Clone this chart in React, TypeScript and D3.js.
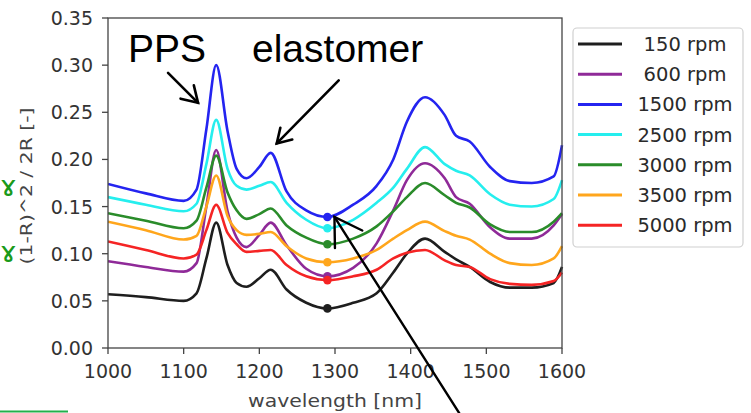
import React from "react";
import * as d3 from "d3";

// Wavelength grid [nm] shared by all spectra
const wavelengths = [1000, 1050, 1100, 1117, 1130, 1143, 1158, 1170, 1183, 1200, 1215, 1236, 1262, 1290, 1324, 1355, 1377, 1395, 1419, 1445, 1460, 1478, 1505, 1531, 1560, 1589, 1600];

// Kubelka-Munk values (1-R)^2 / 2R per rotation speed
const rpm150 = [0.057, 0.054, 0.050, 0.058, 0.095, 0.133, 0.088, 0.069, 0.065, 0.074, 0.083, 0.062, 0.048, 0.042, 0.048, 0.058, 0.080, 0.100, 0.116, 0.102, 0.094, 0.086, 0.070, 0.064, 0.064, 0.069, 0.086];
const rpm600 = [0.092, 0.086, 0.081, 0.090, 0.150, 0.210, 0.145, 0.117, 0.107, 0.120, 0.133, 0.109, 0.084, 0.076, 0.085, 0.111, 0.146, 0.178, 0.196, 0.180, 0.160, 0.153, 0.128, 0.116, 0.116, 0.130, 0.142];
const rpm1500 = [0.174, 0.164, 0.156, 0.168, 0.232, 0.300, 0.230, 0.190, 0.180, 0.192, 0.207, 0.166, 0.146, 0.139, 0.152, 0.172, 0.200, 0.240, 0.266, 0.247, 0.225, 0.219, 0.192, 0.177, 0.175, 0.182, 0.215];
const rpm2500 = [0.160, 0.152, 0.145, 0.153, 0.195, 0.242, 0.190, 0.172, 0.168, 0.172, 0.176, 0.154, 0.136, 0.127, 0.136, 0.154, 0.170, 0.190, 0.213, 0.195, 0.188, 0.183, 0.163, 0.152, 0.150, 0.158, 0.178];
const rpm3000 = [0.143, 0.135, 0.127, 0.135, 0.170, 0.204, 0.165, 0.146, 0.137, 0.142, 0.148, 0.130, 0.117, 0.110, 0.116, 0.129, 0.145, 0.160, 0.175, 0.162, 0.154, 0.149, 0.131, 0.123, 0.123, 0.134, 0.143];
const rpm3500 = [0.134, 0.125, 0.115, 0.119, 0.150, 0.183, 0.140, 0.125, 0.120, 0.121, 0.123, 0.108, 0.095, 0.091, 0.095, 0.104, 0.116, 0.125, 0.134, 0.124, 0.119, 0.115, 0.100, 0.090, 0.088, 0.095, 0.108];
const rpm5000 = [0.113, 0.104, 0.095, 0.099, 0.125, 0.152, 0.122, 0.110, 0.102, 0.103, 0.104, 0.088, 0.076, 0.072, 0.076, 0.083, 0.095, 0.101, 0.104, 0.093, 0.088, 0.086, 0.073, 0.068, 0.067, 0.071, 0.080];

const seriesNames = ["150 rpm", "600 rpm", "1500 rpm", "2500 rpm", "3000 rpm", "3500 rpm", "5000 rpm"];
const seriesValues = [rpm150, rpm600, rpm1500, rpm2500, rpm3000, rpm3500, rpm5000];
const seriesColors = ["#1e1e1e", "#8f2a98", "#2424f0", "#25eeee", "#2a8c2a", "#ffa61c", "#f52424"];

// Wavelength where the minimum between the two bands is marked
const markerWavelength = 1290;

const xTicks = [1000, 1100, 1200, 1300, 1400, 1500, 1600];
const yTicks = [0, 0.05, 0.1, 0.15, 0.2, 0.25, 0.3, 0.35];

const W = 751;
const H = 413;
const plot = { left: 108, right: 562, top: 18, bottom: 348 };

function arrowHead(tx: number, ty: number, fx: number, fy: number, len: number, ang: number) {
  const a = Math.atan2(fy - ty, fx - tx);
  const p1 = [tx + len * Math.cos(a + ang), ty + len * Math.sin(a + ang)];
  const p2 = [tx + len * Math.cos(a - ang), ty + len * Math.sin(a - ang)];
  return `M${p1[0]},${p1[1]}L${tx},${ty}L${p2[0]},${p2[1]}`;
}

export default function App() {
  const x = d3.scaleLinear().domain([1000, 1600]).range([plot.left, plot.right]);
  const y = d3.scaleLinear().domain([0, 0.35]).range([plot.bottom, plot.top]);

  const line = d3
    .line<number>()
    .x((_, i) => x(wavelengths[i]))
    .y((v) => y(v))
    .curve(d3.curveMonotoneX);

  const mIdx = wavelengths.indexOf(markerWavelength);
  const tickColor = "#333";

  // arrow tips anchored to the data
  const ppsTip = [x(1119), y(0.26)];
  const ppsFrom = [ppsTip[0] - 30, ppsTip[1] - 30];
  const elaTip = [x(1223), y(0.217)];
  const elaFrom = [elaTip[0] + 62, elaTip[1] - 63];
  const minTip = [x(markerWavelength) + 7, y(rpm1500[mIdx])];
  const minFrom = [minTip[0] + 126, H + 2];

  return (
    <svg
      width={W}
      height={H}
      viewBox={`0 0 ${W} ${H}`}
      style={{ position: "absolute", left: 0, top: 0, background: "#fff" }}
      fontFamily="'DejaVu Sans', sans-serif"
    >
      <rect x={0} y={0} width={W} height={H} fill="#fff" />

      <defs>
        <clipPath id="plotClip">
          <rect x={plot.left} y={plot.top - 2} width={plot.right - plot.left + 2} height={plot.bottom - plot.top + 4} />
        </clipPath>
      </defs>

      {/* spectra */}
      <g clipPath="url(#plotClip)">
        {seriesValues.map((vals, i) => (
          <path key={seriesNames[i]} d={line(vals) ?? ""} fill="none" stroke={seriesColors[i]} strokeWidth={2.6} strokeLinejoin="round" />
        ))}
        {seriesValues.map((vals, i) => (
          <circle key={"m" + i} cx={x(markerWavelength)} cy={y(vals[mIdx])} r={4.3} fill={seriesColors[i]} />
        ))}
      </g>

      {/* axes frame */}
      <rect x={plot.left} y={plot.top} width={plot.right - plot.left} height={plot.bottom - plot.top} fill="none" stroke="#444" strokeWidth={1.3} />

      {/* y axis */}
      {yTicks.map((t) => (
        <g key={"y" + t}>
          <line x1={plot.left - 6} x2={plot.left} y1={y(t)} y2={y(t)} stroke="#444" strokeWidth={1.3} />
          <text x={plot.left - 15} y={y(t) + 7} textAnchor="end" fontSize={19} fill={tickColor}>
            {d3.format(".2f")(t)}
          </text>
        </g>
      ))}

      {/* x axis */}
      {xTicks.map((t) => (
        <g key={"x" + t}>
          <line x1={x(t)} x2={x(t)} y1={plot.bottom} y2={plot.bottom + 6} stroke="#444" strokeWidth={1.3} />
          <text x={x(t)} y={plot.bottom + 30} textAnchor="middle" fontSize={19} fill={tickColor}>
            {t}
          </text>
        </g>
      ))}

      <text x={335} y={407} textAnchor="middle" fontSize={18} fill="#444" textLength={174} lengthAdjust="spacingAndGlyphs">
        wavelength [nm]
      </text>
      <text
        transform={`translate(32,186) rotate(-90)`}
        textAnchor="middle"
        fontSize={15}
        fill="#444"
        textLength={157}
        lengthAdjust="spacingAndGlyphs"
      >
        (1-R)^2 / 2R [-]
      </text>

      {/* legend */}
      <rect x={573} y={28} width={170} height={219} rx={4} fill="#fff" stroke="#d0d0d0" strokeWidth={1.2} />
      {seriesNames.map((name, i) => {
        const ly = 44 + i * 30.2;
        return (
          <g key={"l" + name}>
            <line x1={578} x2={622} y1={ly} y2={ly} stroke={seriesColors[i]} strokeWidth={3} />
            <text x={685} y={ly + 7} textAnchor="middle" fontSize={19.5} fill="#2a2a2a">
              {name}
            </text>
          </g>
        );
      })}

      {/* band annotations */}
      <text x={128} y={62} fontSize={39} fontFamily="'Liberation Sans', Arial, sans-serif" fill="#000">
        PPS
      </text>
      <text x={252} y={62} fontSize={39} fontFamily="'Liberation Sans', Arial, sans-serif" fill="#000">
        elastomer
      </text>
      <g stroke="#000" strokeWidth={2.6} fill="none" strokeLinecap="round">
        <line x1={ppsFrom[0]} y1={ppsFrom[1]} x2={ppsTip[0]} y2={ppsTip[1]} />
        <path d={arrowHead(ppsTip[0], ppsTip[1], ppsFrom[0], ppsFrom[1], 18, 0.55)} />
        <line x1={elaFrom[0]} y1={elaFrom[1]} x2={elaTip[0]} y2={elaTip[1]} />
        <path d={arrowHead(elaTip[0], elaTip[1], elaFrom[0], elaFrom[1], 16, 0.55)} />
      </g>
      <g stroke="#000" strokeWidth={2.4} fill="none" strokeLinecap="round">
        <line x1={minFrom[0]} y1={minFrom[1]} x2={minTip[0]} y2={minTip[1]} />
        <path d={arrowHead(minTip[0], minTip[1], minFrom[0], minFrom[1], 31, 0.55)} />
      </g>

      {/* side markings */}
      <text x={0} y={196} fontSize={28} fill="#1a9a1a">ɤ</text>
      <text x={0} y={262} fontSize={28} fill="#1a9a1a">ɤ</text>
      <line x1={0} x2={68} y1={411.5} y2={411.5} stroke="#22b04b" strokeWidth={2} />
    </svg>
  );
}
